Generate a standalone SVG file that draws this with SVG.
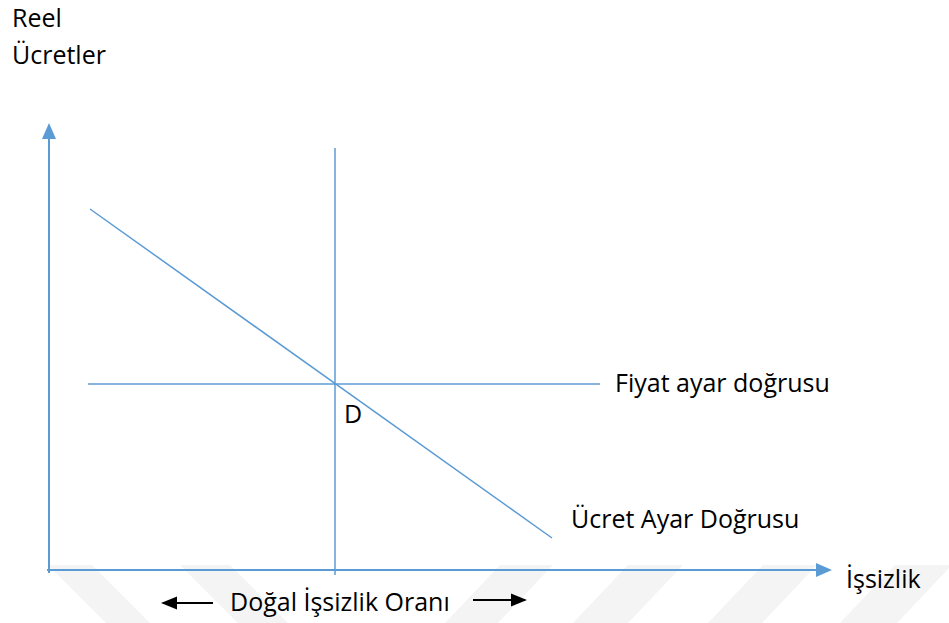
<svg xmlns="http://www.w3.org/2000/svg" width="949" height="623" viewBox="0 0 949 623">
<style>
.ax{stroke:#5B9BD5;stroke-width:2;fill:none}
.ln{stroke:#5B9BD5;stroke-width:1.5;fill:none}
.t{font-family:"Open Sans","Liberation Sans",sans-serif;font-size:25px;fill:#000}
.wm{fill:#f4f4f4}
</style>
<defs>
<marker id="ba" markerWidth="16" markerHeight="16" refX="14" refY="7" orient="auto" markerUnits="userSpaceOnUse" viewBox="0 0 16 14"><path d="M0,0 L16,7 L0,14 Z" fill="#5B9BD5"/></marker>
<marker id="ka" markerWidth="16" markerHeight="14" refX="14" refY="6.5" orient="auto" markerUnits="userSpaceOnUse" viewBox="0 0 16 13"><path d="M0,0 L16,6.5 L0,13 Z" fill="#000"/></marker>
</defs>
<rect width="949" height="623" fill="#fff"/>
<g id="watermark">
<polygon class="wm" points="48,565 92,565 150,623 106,623"/>
<polygon class="wm" points="180,565 230,565 288,623 238,623"/>
<polygon class="wm" points="500,565 553,565 498,623 445,623"/>
<polygon class="wm" points="628,565 683,565 628,623 573,623"/>
<polygon class="wm" points="763,565 817,565 762,623 708,623"/>
<polygon class="wm" points="895,565 949,565 949,568 897,623 840,623"/>
</g>
<g id="connectors">
<line class="ax" x1="49" y1="573" x2="49" y2="125" marker-end="url(#ba)"/>
<line class="ax" x1="47" y1="570" x2="830" y2="570" marker-end="url(#ba)"/>
<line class="ln" x1="335" y1="148" x2="335" y2="575"/>
<line class="ln" x1="88" y1="384" x2="600" y2="384"/>
<line class="ln" x1="90" y1="209" x2="552" y2="538"/>
<line stroke="#000" stroke-width="2" x1="213" y1="603" x2="163" y2="603" marker-end="url(#ka)"/>
<line stroke="#000" stroke-width="2" x1="473" y1="600" x2="525" y2="600" marker-end="url(#ka)"/>
</g>
<g id="labels">
<text class="t" x="12" y="27">Reel</text>
<text class="t" x="12" y="64">Ücretler</text>
<text class="t" x="344" y="423">D</text>
<text class="t" x="615" y="392">Fiyat ayar doğrusu</text>
<text class="t" x="571" y="528">Ücret Ayar Doğrusu</text>
<text class="t" x="846" y="588">İşsizlik</text>
<text class="t" x="230" y="611">Doğal İşsizlik Oranı</text>
</g>
</svg>
